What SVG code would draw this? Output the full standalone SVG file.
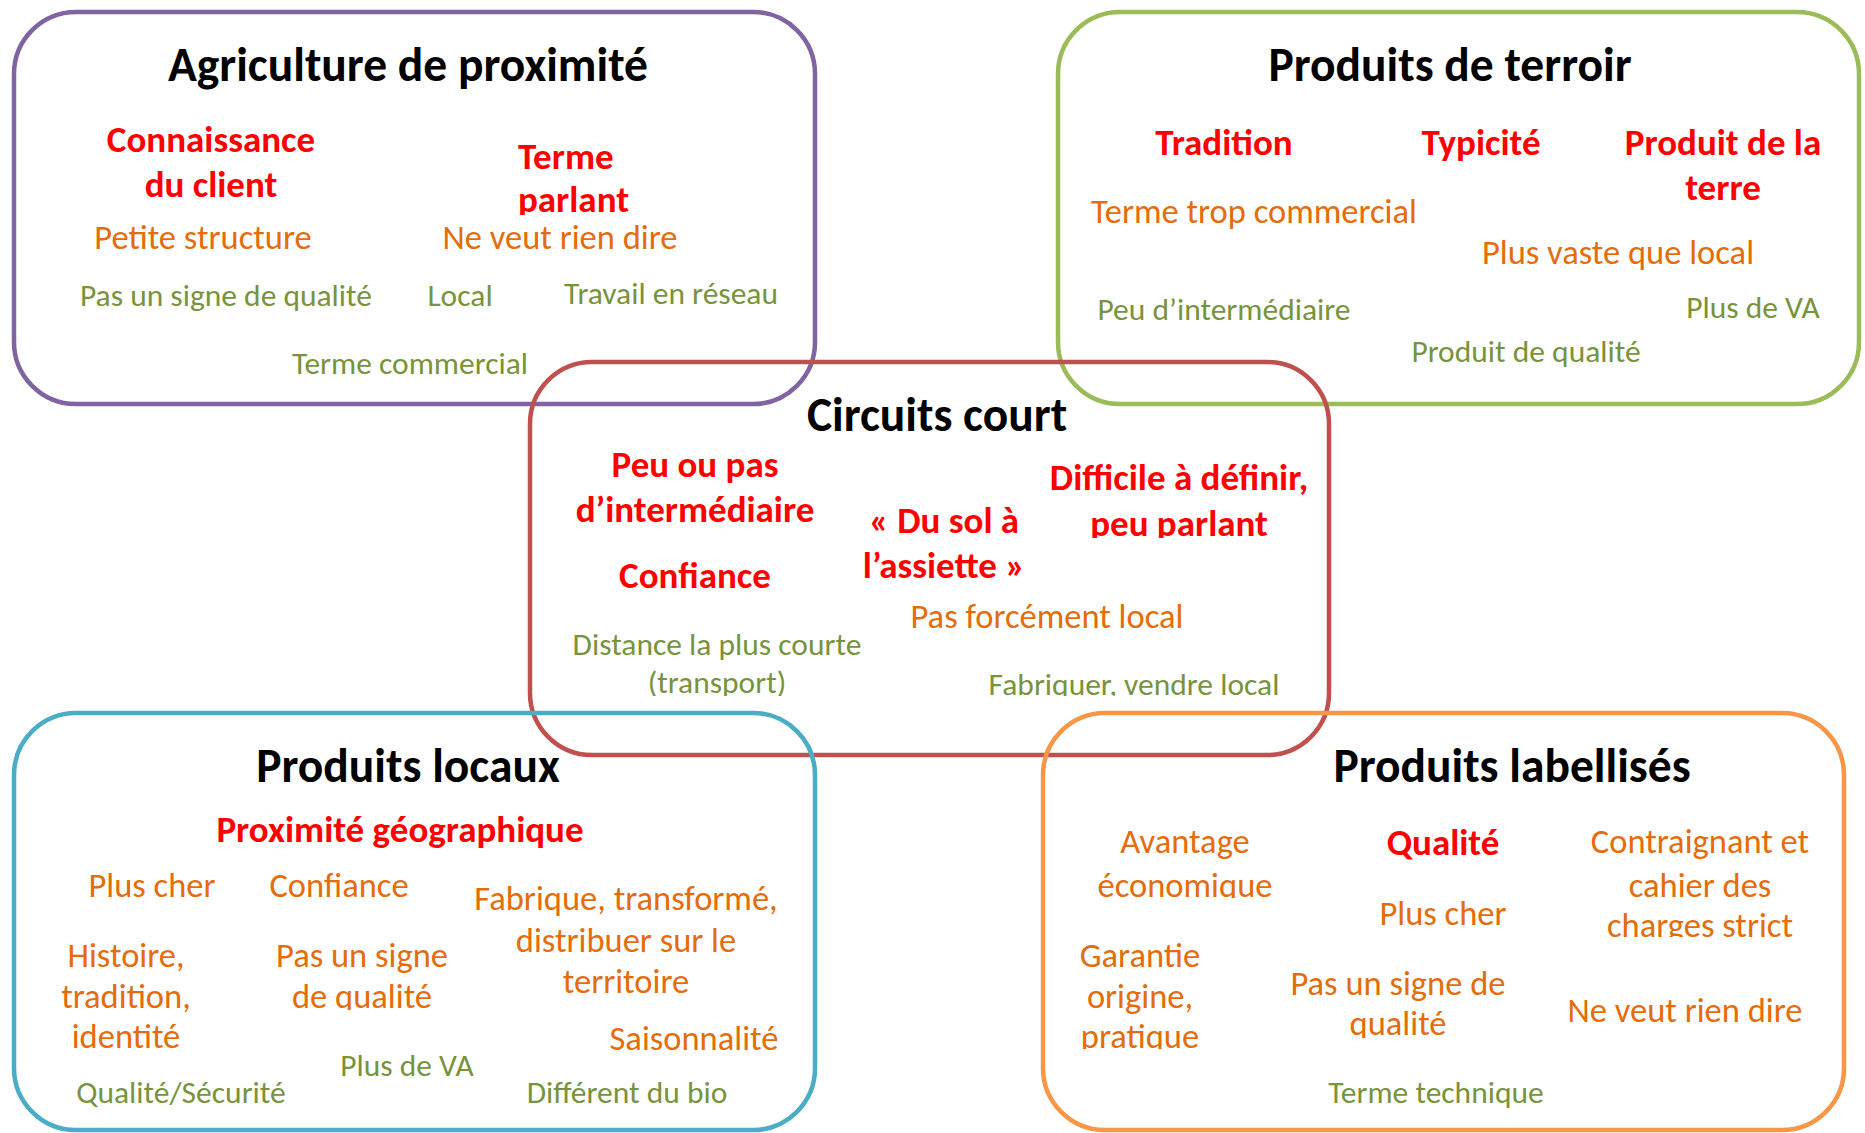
<svg xmlns="http://www.w3.org/2000/svg" width="1865" height="1133" viewBox="0 0 1865 1133">
<style>
text{font-family:Carlito,Calibri,"Liberation Sans Narrow",Lato,sans-serif;text-anchor:middle}
.box{fill:none;stroke-width:4.5}
.t{font-size:47.5px;font-weight:bold;fill:#000}
.r{font-size:37px;font-weight:bold;fill:#FF0000}
.o{font-size:34.5px;fill:#E46C0A}
.g{font-size:31.5px;fill:#77933C}
</style>
<defs>
<clipPath id="c1"><rect x="0" y="0" width="1865" height="215"/></clipPath>
<clipPath id="c2"><rect x="0" y="0" width="1865" height="538"/></clipPath>
<clipPath id="c3"><rect x="0" y="0" width="1865" height="696"/></clipPath>
<clipPath id="c4"><rect x="0" y="0" width="1865" height="1049"/></clipPath>
<clipPath id="c5"><rect x="0" y="0" width="1865" height="1010"/></clipPath>
<clipPath id="c6"><rect x="0" y="0" width="1865" height="995"/></clipPath>
<clipPath id="c7"><rect x="0" y="0" width="1865" height="898"/></clipPath>
<clipPath id="c8"><rect x="0" y="0" width="1865" height="937"/></clipPath>
<clipPath id="c9"><rect x="0" y="0" width="1865" height="1038"/></clipPath>
</defs>
<g id="connectors"></g>
<g id="agriculture">
<rect class="box" x="14" y="12" width="801" height="392" rx="62" stroke="#8064A2"/>
<text class="t" x="408" y="81">Agriculture de proximité</text>
<text class="r" x="211" y="152">Connaissance</text>
<text class="r" x="211" y="197">du client</text>
<g clip-path="url(#c1)"><text class="r" x="518" y="169" style="text-anchor:start">Terme</text>
<text class="r" x="518" y="212" style="text-anchor:start">parlant</text></g>
<text class="o" x="203" y="249">Petite structure</text>
<text class="o" x="560" y="249">Ne veut rien dire</text>
<text class="g" x="226" y="306">Pas un signe de qualité</text>
<text class="g" x="460" y="306">Local</text>
<text class="g" x="671" y="304">Travail en réseau</text>
<text class="g" x="410" y="374">Terme commercial</text>
</g>
<g id="terroir">
<rect class="box" x="1058" y="12" width="801" height="392" rx="62" stroke="#9BBB59"/>
<text class="t" x="1450" y="81">Produits de terroir</text>
<text class="r" x="1224" y="155">Tradition</text>
<text class="r" x="1481" y="155">Typicité</text>
<text class="r" x="1723" y="155">Produit de la</text>
<text class="r" x="1723" y="200">terre</text>
<text class="o" x="1254" y="223">Terme trop commercial</text>
<text class="o" x="1618" y="264">Plus vaste que local</text>
<text class="g" x="1224" y="320">Peu d’intermédiaire</text>
<text class="g" x="1753" y="318">Plus de VA</text>
<text class="g" x="1526" y="362">Produit de qualité</text>
</g>
<g id="circuits">
<rect class="box" x="530" y="362" width="799" height="393" rx="62" stroke="#C0504D"/>
<text class="t" x="937" y="431">Circuits court</text>
<text class="r" x="695" y="477">Peu ou pas</text>
<text class="r" x="695" y="522">d’intermédiaire</text>
<text class="r" x="695" y="588">Confiance</text>
<text class="r" x="944" y="533">« Du sol à</text>
<text class="r" x="944" y="578">l’assiette »</text>
<text class="r" x="1179" y="490">Difficile à définir,</text>
<g clip-path="url(#c2)"><text class="r" x="1179" y="536">peu parlant</text></g>
<text class="o" x="1047" y="628">Pas forcément local</text>
<text class="g" x="717" y="655">Distance la plus courte</text>
<g clip-path="url(#c3)"><text class="g" x="717" y="693">(transport)</text>
<text class="g" x="1134" y="695">Fabriquer, vendre local</text></g>
</g>
<g id="locaux">
<rect class="box" x="14" y="713" width="801" height="417" rx="62" stroke="#4BACC6"/>
<text class="t" x="408" y="782">Produits locaux</text>
<text class="r" x="400" y="842">Proximité géographique</text>
<text class="o" x="152" y="897">Plus cher</text>
<text class="o" x="339" y="897">Confiance</text>
<text class="o" x="626" y="910">Fabrique, transformé,</text>
<text class="o" x="626" y="952">distribuer sur le</text>
<g clip-path="url(#c6)"><text class="o" x="626" y="993">territoire</text></g>
<text class="o" x="126" y="967">Histoire,</text>
<text class="o" x="126" y="1008">tradition,</text>
<g clip-path="url(#c4)"><text class="o" x="126" y="1048">identité</text></g>
<text class="o" x="362" y="967">Pas un signe</text>
<g clip-path="url(#c5)"><text class="o" x="362" y="1008">de qualité</text></g>
<text class="o" x="694" y="1050">Saisonnalité</text>
<text class="g" x="407" y="1076">Plus de VA</text>
<text class="g" x="181" y="1103">Qualité/Sécurité</text>
<text class="g" x="627" y="1103">Différent du bio</text>
</g>
<g id="labellises">
<rect class="box" x="1043" y="713" width="801" height="417" rx="62" stroke="#F79646"/>
<text class="t" x="1512" y="782">Produits labellisés</text>
<text class="o" x="1185" y="853">Avantage</text>
<g clip-path="url(#c7)"><text class="o" x="1185" y="897">économique</text></g>
<text class="r" x="1443" y="855">Qualité</text>
<text class="o" x="1700" y="853">Contraignant et</text>
<text class="o" x="1700" y="897">cahier des</text>
<g clip-path="url(#c8)"><text class="o" x="1700" y="937">charges strict</text></g>
<text class="o" x="1443" y="925">Plus cher</text>
<text class="o" x="1140" y="967">Garantie</text>
<text class="o" x="1140" y="1008">origine,</text>
<g clip-path="url(#c4)"><text class="o" x="1140" y="1048">pratique</text></g>
<text class="o" x="1398" y="995">Pas un signe de</text>
<g clip-path="url(#c9)"><text class="o" x="1398" y="1035">qualité</text></g>
<text class="o" x="1685" y="1022">Ne veut rien dire</text>
<text class="g" x="1436" y="1103">Terme technique</text>
</g>
</svg>
